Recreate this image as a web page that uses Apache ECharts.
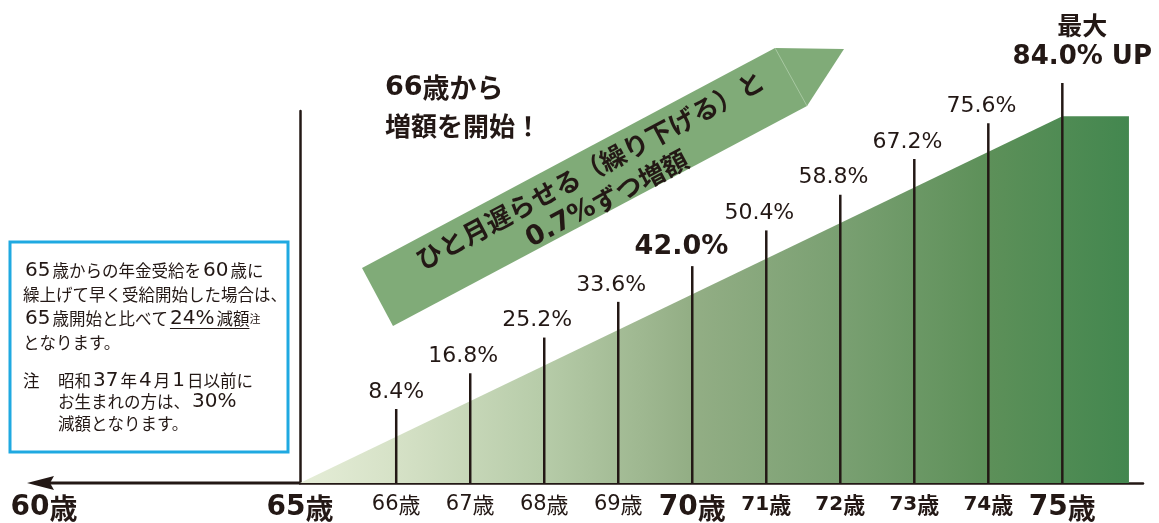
<!DOCTYPE html>
<html>
<head>
<meta charset="utf-8">
<script src="https://cdn.jsdelivr.net/npm/echarts@6/dist/echarts.min.js"></script>
<style>
html,body{margin:0;padding:0;background:#fff;}
#chart{width:1159px;height:523px;}
</style>
</head>
<body>
<div id="chart"></div>
<script>
// ---- data ----
const ages = [66, 67, 68, 69, 70, 71, 72, 73, 74, 75];
const increasePct = [8.4, 16.8, 25.2, 33.6, 42.0, 50.4, 58.8, 67.2, 75.6, 84.0];
const ageLabels = ['66歳', '67歳', '68歳', '69歳', '70歳', '71歳', '72歳', '73歳', '74歳', '75歳'];
const startAgeLabel = '65歳';
const earlyAgeLabel = '60歳';
const maxLabelTop = '最大';
const maxLabelSuffix = ' UP';
const headline = ['66歳から', '増額を開始！'];
const arrowText = ['ひと月遅らせる（繰り下げる）と', '0.7%ずつ増額'];
const boxLines = ['65歳からの年金受給を60歳に', '繰上げて早く受給開始した場合は、'];
const boxLine3 = ['65歳開始と比べて', '24%', '減額', '注'];
const boxLine4 = 'となります。';
const noteMark = '注';
const noteLines = ['昭和37年4月1日以前に', 'お生まれの方は、30%', '減額となります。'];

// ---- layout ----
const INK = '#231815';
const LAT = "'DejaVu Sans','Noto Sans CJK JP'";
const JPF = "'Noto Sans CJK JP'";
const DJ = "'DejaVu Sans'";
const X_MIN = 64.7, X_MAX = 76.09, AREA_END = 75.9;
const Y_MAX = 85.2;
const maxPct = increasePct[increasePct.length - 1];
const maxAge = ages[ages.length - 1];
function stemHeight(i) { return i === ages.length - 1 ? 91.6 : 16.95 + 8.18 * i; }

const chart = echarts.init(document.getElementById('chart'), null, {renderer: 'canvas'});

// split a string into digit runs {d|..} and Japanese runs {j|..}
function tokens(s, dTag, jTag) {
  return s.replace(/([0-9.%]+)|([^0-9.%]+)/g, (m, a, b) => a ? '{' + (dTag || 'd') + '|' + a + '}' : '{' + (jTag || 'j') + '|' + b + '}');
}

const BOX_J = 16.5, BOX_D = 20, BOX_PAD = 2;
const boxRich = {
  d: {fontFamily: DJ, fontSize: BOX_D, color: INK, padding: [0, BOX_PAD, 0, BOX_PAD]},
  j: {fontFamily: JPF, fontSize: BOX_J, color: INK},
  s: {fontFamily: JPF, fontSize: 11, color: INK}
};
function boxText(txt, x, y) {
  return {type: 'text', x: x, y: y, z: 20,
    style: {text: txt, fontFamily: JPF, fontSize: BOX_J, fill: INK, verticalAlign: 'middle', align: 'left', rich: boxRich}};
}
// measure for underline
const mctx = document.createElement('canvas').getContext('2d');
function tw(font, s) { mctx.font = font; return mctx.measureText(s).width; }
const dFont = BOX_D + 'px ' + DJ, jFont = BOX_J + 'px ' + JPF;
let ulStart = 23;
boxLine3[0].replace(/([0-9.%]+)|([^0-9.%]+)/g, (m, a, b) => {
  ulStart += a ? tw(dFont, a) + 2 * BOX_PAD : tw(jFont, b);
  return m;
});
ulStart += BOX_PAD;
const ulEnd = ulStart + tw(dFont, boxLine3[1]) + BOX_PAD + tw(jFont, boxLine3[2]);

const stemData = ages.map((a, i) => {
  const item = {value: [a, stemHeight(i)]};
  if (ages[i] === 70) {
    item.label = {fontWeight: 'bold', fontSize: 27, offset: [36, 0]};
  }
  if (i === ages.length - 1) {
    item.label = {
      align: 'center', offset: [20, 0], distance: 11,
      formatter: () => '{a|' + maxLabelTop + '}\n{b|' + maxPct.toFixed(1) + '%' + maxLabelSuffix + '}',
      rich: {
        a: {fontFamily: JPF, fontWeight: 'bold', fontSize: 25, lineHeight: 34, color: INK},
        b: {fontFamily: LAT, fontWeight: 'bold', fontSize: 26, lineHeight: 30, color: INK}
      }
    };
  }
  return item;
});

const ang = Math.atan2(220, 413);

const option = {
  animation: false,
  backgroundColor: '#fff',
  grid: {left: 300, right: 16, top: 111, bottom: 40},
  xAxis: {
    type: 'value', min: X_MIN, max: X_MAX,
    axisLine: {show: true, lineStyle: {color: INK, width: 2.5}},
    axisTick: {show: false},
    splitLine: {show: false},
    axisLabel: {
      customValues: ages,
      margin: 11,
      color: INK,
      formatter: function (v) {
        const i = ages.indexOf(Math.round(v));
        const t = ageLabels[i];
        if (t === undefined) return '';
        if (ages[i] === 70 || ages[i] === 75) return tokens(t, 'bd', 'bj');
        if (ages[i] > 70) return tokens(t, 'md', 'mj');
        return tokens(t, 'rd', 'rj');
      },
      rich: {
        bd: {fontFamily: DJ, fontWeight: 'bold', fontSize: 28, color: INK},
        bj: {fontFamily: JPF, fontWeight: 'bold', fontSize: 28, color: INK},
        md: {fontFamily: DJ, fontWeight: 'bold', fontSize: 20, color: INK},
        mj: {fontFamily: JPF, fontWeight: 'bold', fontSize: 22, color: INK},
        rd: {fontFamily: DJ, fontSize: 21, color: INK},
        rj: {fontFamily: JPF, fontSize: 22, color: INK}
      }
    }
  },
  yAxis: {
    type: 'value', min: 0, max: Y_MAX,
    axisLine: {show: true, lineStyle: {color: INK, width: 2.5}},
    axisTick: {show: false}, axisLabel: {show: false}, splitLine: {show: false}
  },
  series: [
    {
      type: 'line', z: 1,
      data: [[X_MIN, 0], [maxAge, maxPct], [AREA_END, maxPct]],
      symbol: 'none', lineStyle: {width: 0},
      areaStyle: {
        opacity: 1,
        color: new echarts.graphic.LinearGradient(0, 0, 1, 0, [
          {offset: 0, color: '#e5edd7'},
          {offset: 0.12, color: '#d5e1c6'},
          {offset: 0.29, color: '#b7cca9'},
          {offset: 0.47, color: '#93ae85'},
          {offset: 0.65, color: '#7aa072'},
          {offset: 0.83, color: '#5d9059'},
          {offset: 1, color: '#43874f'}
        ])
      }
    },
    {
      type: 'bar', z: 3, clip: false,
      barWidth: 2.5,
      itemStyle: {color: INK},
      data: stemData,
      label: {
        show: true, position: 'top', distance: 6,
        align: 'right', offset: [28, 0],
        fontFamily: DJ, fontSize: 22, color: INK,
        formatter: p => increasePct[p.dataIndex].toFixed(1) + '%'
      }
    }
  ],
  graphic: [
    // left arrow to 60 years
    {type: 'line', z: 5, shape: {x1: 300, y1: 483, x2: 45, y2: 483}, style: {stroke: INK, lineWidth: 3}},
    {type: 'polygon', z: 5, shape: {points: [[27, 483], [54, 476], [50, 483], [54, 490]]}, style: {fill: INK}},
    {type: 'text', x: 300, y: 508, z: 5, style: {text: tokens(startAgeLabel), fill: INK, align: 'center', verticalAlign: 'middle',
      rich: {d: {fontFamily: DJ, fontWeight: 'bold', fontSize: 28, color: INK}, j: {fontFamily: JPF, fontWeight: 'bold', fontSize: 28, color: INK}}}},
    {type: 'text', x: 44, y: 508, z: 5, style: {text: tokens(earlyAgeLabel), fill: INK, align: 'center', verticalAlign: 'middle',
      rich: {d: {fontFamily: DJ, fontWeight: 'bold', fontSize: 28, color: INK}, j: {fontFamily: JPF, fontWeight: 'bold', fontSize: 28, color: INK}}}},
    // big arrow
    {type: 'polygon', z: 2, shape: {points: [[362, 268], [775, 48], [844, 49], [807, 106], [393, 326]]}, style: {fill: '#80ab78'}},
    {type: 'line', z: 2, shape: {x1: 775, y1: 48, x2: 807, y2: 106}, style: {stroke: '#a7c8a1', lineWidth: 1}},
    {type: 'text', x: 590, y: 170, rotation: ang, z: 4,
      style: {text: arrowText[0], fontFamily: JPF, fontWeight: 'bold', fontSize: 26, fill: INK, align: 'center', verticalAlign: 'middle'}},
    {type: 'text', x: 607, y: 199, rotation: ang, z: 4,
      style: {text: tokens(arrowText[1]), fill: INK, align: 'center', verticalAlign: 'middle',
        rich: {d: {fontFamily: DJ, fontWeight: 'bold', fontSize: 27, color: INK}, j: {fontFamily: JPF, fontWeight: 'bold', fontSize: 26, color: INK}}}},
    // headline
    {type: 'text', x: 385, y: 88, z: 4,
      style: {text: tokens(headline[0]), fill: INK, align: 'left', verticalAlign: 'middle',
        rich: {d: {fontFamily: DJ, fontWeight: 'bold', fontSize: 27, color: INK}, j: {fontFamily: JPF, fontWeight: 'bold', fontSize: 27, color: INK}}}},
    {type: 'text', x: 385, y: 126, z: 4,
      style: {text: headline[1], fontFamily: JPF, fontWeight: 'bold', fontSize: 26, fill: INK, align: 'left', verticalAlign: 'middle'}},
    // info box
    {type: 'rect', z: 10, shape: {x: 10, y: 242, width: 278, height: 210}, style: {fill: '#fff', stroke: '#1fa9e1', lineWidth: 3}},
    boxText(tokens(boxLines[0]), 23, 271),
    boxText(tokens(boxLines[1]), 23, 295),
    boxText(tokens(boxLine3[0]) + '{d|' + boxLine3[1] + '}{j|' + boxLine3[2] + '}{s|' + boxLine3[3] + '}', 23, 319),
    boxText(tokens(boxLine4), 23, 343),
    boxText(tokens(noteMark), 23, 381),
    boxText(tokens(noteLines[0]), 58, 381),
    boxText(tokens(noteLines[1]), 58, 402),
    boxText(tokens(noteLines[2]), 58, 424),
    {type: 'line', z: 21, shape: {x1: ulStart, y1: 328.5, x2: ulEnd, y2: 328.5}, style: {stroke: INK, lineWidth: 1.2}}
  ]
};
chart.setOption(option);
</script>
</body>
</html>
